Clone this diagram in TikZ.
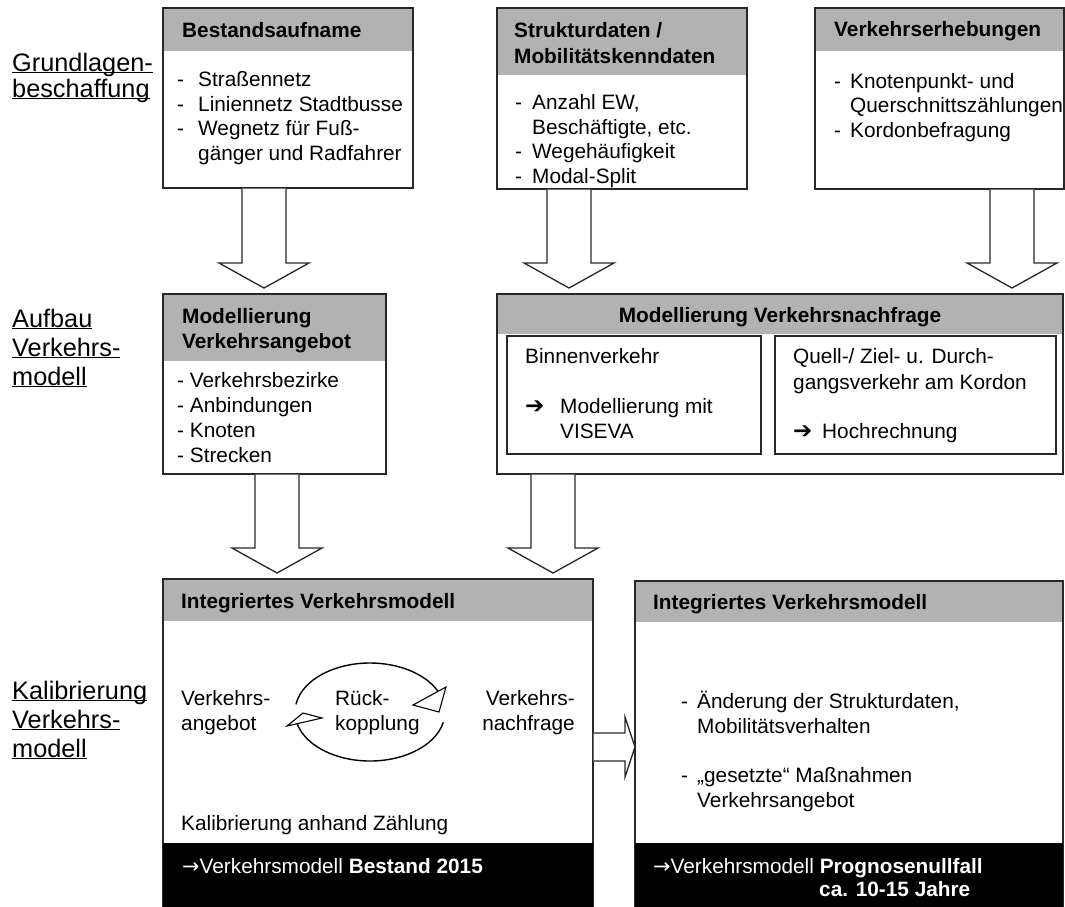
\documentclass[tikz,border=0pt]{standalone}
\usepackage{fontspec}
\setmainfont{Liberation Sans}
\newfontfamily\symfont{DejaVu Sans}
\usetikzlibrary{calc}
\definecolor{headgray}{RGB}{178,178,178}
\definecolor{linegray}{RGB}{40,40,40}
\newcommand\fs{\fontsize{20.8}{24.4}\selectfont}
\newcommand\hs{\fontsize{20.8}{26}\selectfont\bfseries}
\newcommand\itm[2][21pt]{\makebox[#1][l]{-}#2}
\newcommand\ulabel[1]{\underline{\smash{#1}}}
\newcommand\harrow{{\symfont\bfseries\fontsize{23}{24}\selectfont ➔}}
\newcommand\rarrow{{\symfont →}}
\newcommand\blkdown[2]{%
  \coordinate (tip) at ($(#1 |- #2.north)+(0,-6)$);
  \draw[blk] ($(#1)+(-22,0)$) -- ($(tip)+(-22,-25)$) -- ($(tip)+(-45,-25)$)
    -- (tip) -- ($(tip)+(45,-25)$) -- ($(tip)+(22,-25)$) -- ($(#1)+(22,0)$);}

\begin{document}
\begin{tikzpicture}[x=1pt, y=-1pt, font=\fs,
box/.style={draw=linegray, line width=1.3pt, anchor=north west, inner sep=0, outer sep=0},
head/.style={fill=headgray, anchor=north west, inner sep=0, outer sep=0},
bar/.style={fill=black, anchor=north west, inner sep=0, outer sep=0},
txt/.style={anchor=base west, inner sep=0, align=left},
htxt/.style={txt, font=\hs},
lbl/.style={anchor=base west, inner sep=0, align=left},
blk/.style={draw=linegray, fill=white, line width=1.3pt, line join=miter},
tri/.style={draw=black, fill=white, line width=1.1pt, line join=miter},
loop/.style={draw=black, line width=1.4pt}]
\useasboundingbox (0,0) rectangle (1065,906);

% multi-line nodes sit on the baseline of their last line
\node[lbl, font=\fontsize{25.3}{26}\selectfont] (lblgrund) at (12,97) {\ulabel{Grundlagen-}\\\ulabel{beschaffung}};
\node[lbl, font=\fontsize{25.3}{29}\selectfont] (lblaufbau) at (12,385) {\ulabel{Aufbau}\\\ulabel{Verkehrs-}\\\ulabel{modell}};
\node[lbl, font=\fontsize{25.3}{29}\selectfont] (lblkalib) at (12,757) {\ulabel{Kalibrierung}\\\ulabel{Verkehrs-}\\\ulabel{modell}};

\node[head, minimum width=250, minimum height=43] (bestandH) at (163,8) {};
\node[box, minimum width=250, minimum height=180] (bestand) at (163,8) {};
\node[head, minimum width=250, minimum height=67] (strukturH) at (497,8) {};
\node[box, minimum width=250, minimum height=181] (struktur) at (497,8) {};
\node[head, minimum width=249, minimum height=43] (erhebH) at (815,8) {};
\node[box, minimum width=249, minimum height=181] (erheb) at (815,8) {};

\node[head, minimum width=223, minimum height=67] (angebotH) at (163,294) {};
\node[box, minimum width=223, minimum height=180] (angebot) at (163,294) {};
\node[head, minimum width=566, minimum height=40] (nachfrageH) at (497,294) {};
\node[box, minimum width=566, minimum height=180] (nachfrage) at (497,294) {};
\node[box, line width=1.1pt, minimum width=254, minimum height=118] (binnen) at (507,336) {};
\node[box, line width=1.1pt, minimum width=281, minimum height=118] (quell) at (775,336) {};

\node[head, minimum width=430, minimum height=42] (bestmodH) at (163,579) {};
\node[box, minimum width=430, minimum height=340] (bestmod) at (163,579) {};
\node[bar, minimum width=430, minimum height=70] (bestmodB) at (163,843) {};
\node[head, minimum width=428, minimum height=41] (prognoseH) at (635,581) {};
\node[box, minimum width=428, minimum height=340] (prognose) at (635,581) {};
\node[bar, minimum width=428, minimum height=70] (prognoseB) at (635,843) {};

\node[htxt] (bestandT) at (182,37) {Bestandsaufname};
\node[txt] (bestandL) at (177,160) {\itm{Straßennetz}\\\itm{Liniennetz Stadtbusse}\\\itm{Wegnetz für Fuß-}\\\hspace*{21pt}gänger und Radfahrer};
\node[htxt] (strukturT) at (514,63) {Strukturdaten /\\Mobilitätskenndaten};
\node[txt] (strukturL) at (515,183) {\itm[17pt]{Anzahl EW,}\\\hspace*{17pt}Beschäftigte, etc.\\\itm[17pt]{Wegehäufigkeit}\\\itm[17pt]{Modal-Split}};
\node[htxt] (erhebT) at (834,36) {Verkehrserhebungen};
\node[txt] (erhebL) at (834,137) {\itm[16pt]{Knotenpunkt- und}\\\hspace*{16pt}Querschnittszählungen\\\itm[16pt]{Kordonbefragung}};

\node[htxt, font=\fontsize{20.8}{25}\selectfont\bfseries] (angebotT) at (182,348) {Modellierung\\Verkehrsangebot};
\node[txt, font=\fontsize{20.8}{25}\selectfont] (angebotL) at (177,462) {- Verkehrsbezirke\\- Anbindungen\\- Knoten\\- Strecken};
\node[htxt, anchor=base] (nachfrageT) at (780,322) {Modellierung Verkehrsnachfrage};
\node[txt] (binnenT) at (525,363) {Binnenverkehr};
\node[txt, font=\fontsize{20.8}{25}\selectfont] (binnenL) at (525,438) {\makebox[35pt][l]{\harrow}Modellierung mit\\\hspace*{35pt}VISEVA};
\node[txt, font=\fontsize{20.8}{26}\selectfont] (quellT) at (793,389) {Quell-/ Ziel- u. Durch-\\gangsverkehr am Kordon};
\node[txt] (quellL) at (793,438) {\makebox[29pt][l]{\harrow}Hochrechnung};

\node[htxt] (bestmodT) at (181,608) {Integriertes Verkehrsmodell};
\node[txt] (vangebot) at (181,730) {Verkehrs-\\angebot};
\node[txt] (rueck) at (335,730) {Rück-\\kopplung};
\node[txt, anchor=base east, align=right] (vnachfrage) at (575,730) {Verkehrs-\\nachfrage};
\node[txt] (kalib) at (181,830) {Kalibrierung anhand Zählung};
\node[txt, text=white] (bestmodR) at (182,873) {\rarrow Verkehrsmodell \textbf{Bestand 2015}};

\node[htxt] (prognoseT) at (653,609) {Integriertes Verkehrsmodell};
\node[txt] (prognoseL1) at (681,733) {\itm[16pt]{Änderung der Strukturdaten,}\\\hspace*{16pt}Mobilitätsverhalten};
\node[txt] (prognoseL2) at (681,807) {\itm[16pt]{„gesetzte“ Maßnahmen}\\\hspace*{16pt}Verkehrsangebot};
\node[txt, text=white] (prognoseR) at (653,873) {\rarrow Verkehrsmodell \textbf{Prognosenullfall}};
\node[txt, text=white, font=\fs\bfseries] (prognoseJ) at (819,896) {ca. 10-15 Jahre};

\coordinate (s1) at ($(bestand.south west)+(101,0.7)$);
\coordinate (s2) at ($(struktur.south west)+(72,0.7)$);
\coordinate (s3) at ($(erheb.south west)+(197,0.7)$);
\coordinate (s4) at ($(angebot.south west)+(114,0.7)$);
\coordinate (s5) at ($(nachfrage.south west)+(56,0.7)$);
\blkdown{s1}{angebot}
\blkdown{s2}{nachfrage}
\blkdown{s3}{nachfrage}
\blkdown{s4}{bestmod}
\blkdown{s5}{bestmod}

\coordinate (s6) at ($(bestmod.north east |- 0,747)+(0.7,0)$);
\coordinate (t6) at (prognose.west |- s6);
\draw[blk] ($(s6)+(0,-14)$) -- ($(t6)+(-10,-14)$) -- ($(t6)+(-10,-30)$) -- (t6)
  -- ($(t6)+(-10,30)$) -- ($(t6)+(-10,14)$) -- ($(s6)+(0,14)$);

\coordinate (loopc) at (370,712);
\draw[loop] (loopc) ++(189:75 and 49) arc[start angle=189, end angle=338, x radius=75, y radius=49];
\draw[loop] (loopc) ++(12:75 and 49) arc[start angle=12, end angle=167, x radius=75, y radius=49];
\draw[tri] (413,705) -- (446,687) -- (439,712) -- cycle;
\draw[tri] (287,726) -- (303,713) -- (322,718) -- cycle;
\end{tikzpicture}
\end{document}
